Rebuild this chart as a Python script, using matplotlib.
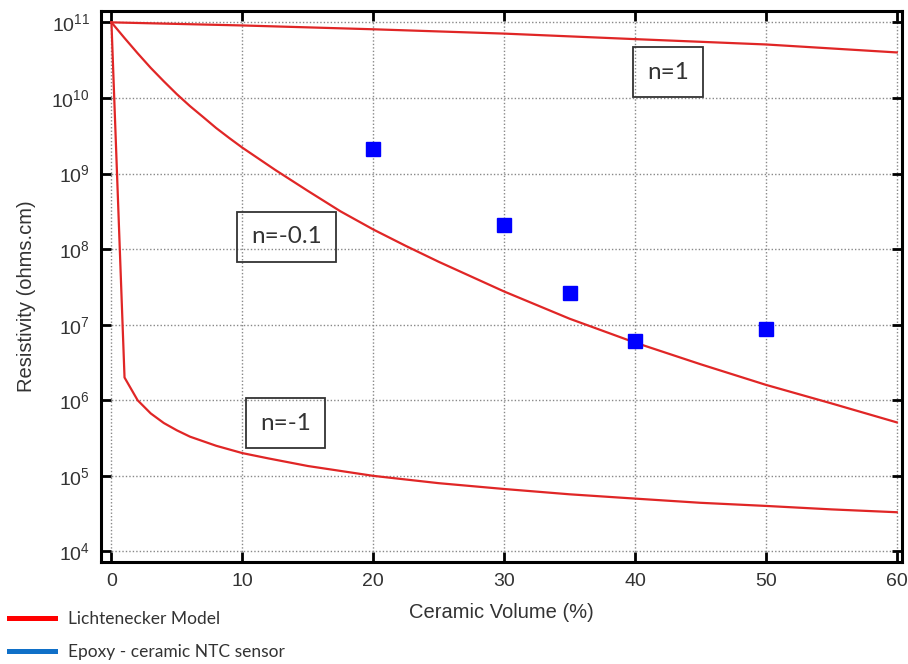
import numpy as np
import matplotlib
matplotlib.use("Agg")
import matplotlib.pyplot as plt
from matplotlib.lines import Line2D

# Lichtenecker model curves
vol_n1 = [0, 10, 20, 30, 40, 50, 60]
rho_n1 = [1.0e11, 9.1e10, 8.1e10, 7.1e10, 6.0e10, 5.1e10, 4.0e10]

vol_n01 = [0, 1, 2, 3, 4, 5, 6, 7, 8, 9, 10, 12.5, 15, 17.5, 20, 22.5, 25, 30, 35, 40,
           45, 50, 55, 60]
rho_n01 = [1.0e11, 6.2e10, 3.9e10, 2.5e10, 1.66e10, 1.12e10, 7.8e9, 5.6e9, 4.0e9, 2.95e9,
           2.2e9, 1.12e9, 5.9e8, 3.16e8, 1.82e8, 1.1e8, 6.8e7, 2.75e7, 1.2e7, 5.8e6,
           3.0e6, 1.6e6, 9.1e5, 5.1e5]

vol_nm1 = [0, 1, 2, 3, 4, 5, 6, 8, 10, 12, 15, 20, 25, 30, 35, 40, 45, 50, 55, 60]
rho_nm1 = [1.0e11, 2.0e6, 1.0e6, 6.7e5, 5.0e5, 4.0e5, 3.3e5, 2.5e5, 2.0e5, 1.7e5, 1.35e5,
           1.0e5, 8.0e4, 6.7e4, 5.7e4, 5.0e4, 4.4e4, 4.0e4, 3.6e4, 3.3e4]

# measured epoxy-ceramic NTC sensor
sensor_vol = [20, 30, 35, 40, 50]
sensor_rho = [2.1e9, 2.1e8, 2.6e7, 6.0e6, 8.8e6]

# curve labels
label_text = ["n=1", "n=-0.1", "n=-1"]
label_vol = [42.5, 13.4, 13.3]
label_rho = [2.2e10, 1.45e8, 5.0e5]

plt.rcParams["mathtext.fontset"] = "custom"
plt.rcParams["mathtext.rm"] = "Liberation Sans"
plt.rcParams["mathtext.it"] = "Liberation Sans"
plt.rcParams["font.family"] = "Liberation Sans"

red = "#e02626"
fig = plt.figure(figsize=(9.08, 6.64), dpi=100)
ax = fig.add_axes([0.1112, 0.1536, 0.8822, 0.8298])

for v, r in [(vol_n1, rho_n1), (vol_n01, rho_n01), (vol_nm1, rho_nm1)]:
    ax.plot(v, r, color=red, lw=1.6, zorder=3)
ax.plot(sensor_vol, sensor_rho, ls="none", marker="s", ms=9.5, color="#0000ff", zorder=4)

for t, xv, yv in zip(label_text, label_vol, label_rho):
    ax.text(xv, yv, t, ha="center", va="center", fontsize=17.5, family="Lato", color="#333333",
            bbox=dict(boxstyle="square,pad=0.58", fc="none", ec="#333333", lw=1.3), zorder=5)

ax.set_yscale("log")
ax.set_xlim(-0.8, 60.4)
ax.set_ylim(10**3.86, 10**11.15)
ax.set_xticks([0, 10, 20, 30, 40, 50, 60])
ax.set_yticks([1e4, 1e5, 1e6, 1e7, 1e8, 1e9, 1e10, 1e11])
ax.minorticks_off()
ax.grid(True, color="#888888", lw=1.0, ls=(0, (1, 1.5)))
ax.set_axisbelow(True)
for s in ax.spines.values():
    s.set_linewidth(2.2)
ax.tick_params(direction="in", length=7, width=2, top=True, right=True,
               labelsize=14, labelcolor="#333333", pad=8)

ax.set_xlabel("Ceramic Volume (%)", fontsize=14.5, color="#333333", labelpad=9)
ax.set_ylabel("Resistivity (ohms.cm)", fontsize=14.5, color="#333333")
ax.yaxis.set_label_coords(-0.081, 0.483)

handles = [Line2D([], [], color="#ff0000", lw=3.6), Line2D([], [], color="#1070c8", lw=3.6)]
fig.legend(handles, ["Lichtenecker Model", "Epoxy - ceramic NTC sensor"],
           loc="lower left", bbox_to_anchor=(-0.002, -0.010), frameon=False,
           prop=dict(family="Lato", size=12.5), labelcolor="#333333",
           handlelength=2.7, handletextpad=0.75, labelspacing=1.0, borderaxespad=0.2)

fig.savefig("out.png", dpi=100)
